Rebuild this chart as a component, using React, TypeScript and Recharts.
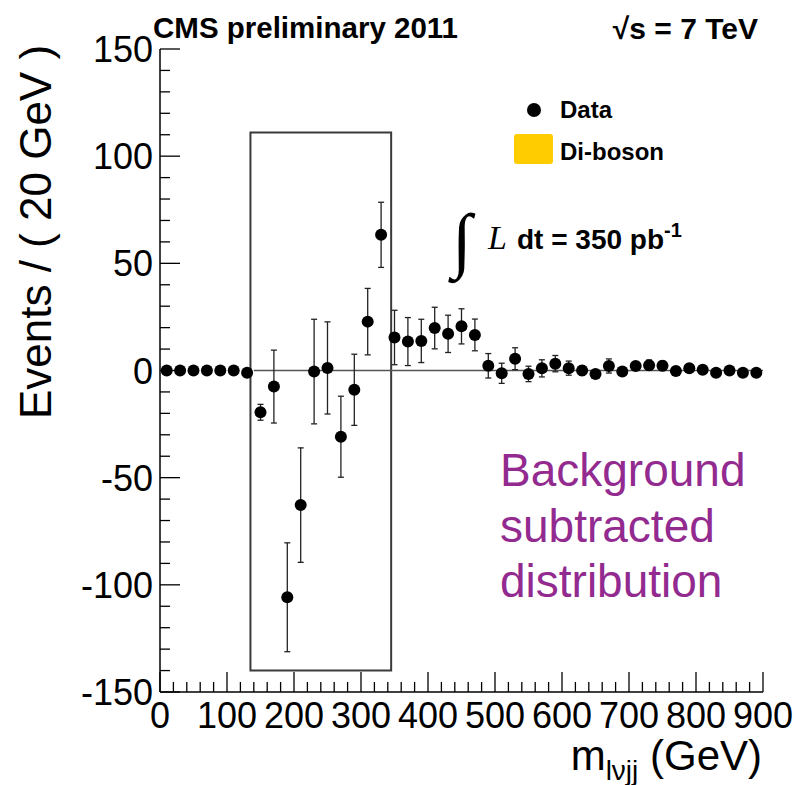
import React from 'react'
import { ComposedChart, Scatter, ErrorBar, XAxis, YAxis, ReferenceArea, ReferenceLine } from 'recharts'

// m_lvjj bin centres (20 GeV bins)
const binCenters = [
  10, 30, 50, 70, 90, 110, 130, 150, 170, 190, 210, 230, 250, 270, 290,
  310, 330, 350, 370, 390, 410, 430, 450, 470, 490, 510, 530, 550, 570, 590,
  610, 630, 650, 670, 690, 710, 730, 750, 770, 790, 810, 830, 850, 870, 890,
]

// background subtracted events per bin
const eventValues = [
  0, 0, 0, 0, 0, 0, -1, -19.5, -7.5, -105.8, -62.8, -0.5, 1.2, -30.9, -9,
  22.8, 63.3, 15.4, 13.5, 13.8, 19.8, 17.1, 20.6, 16.6, 2.2, -1.3, 5.5, -1.6, 1.0, 3.2,
  1.1, 0, -1.6, 2.1, -0.5, 2.1, 2.5, 2.2, -0.2, 1.1, 0.3, -1.1, 0, -1, -1,
]

const eventErrors = [
  0, 0, 0, 0, 0, 0, 0, 3.7, 17, 25.4, 26.7, 24.4, 21.5, 18.9, 16.6,
  15.5, 15.2, 12.7, 11.2, 10.1, 9.7, 8.7, 8.2, 7.4, 5.7, 4.7, 5.1, 3.6, 4, 3.8,
  3.3, 2.2, 2, 3.3, 1.5, 2, 2.4, 2.2, 1.5, 1.5, 1.2, 1, 1, 1, 1,
]

const xMajorTicks = [0, 100, 200, 300, 400, 500, 600, 700, 800, 900]
const yMajorTicks = [-150, -100, -50, 0, 50, 100, 150]

// signal window drawn as a box
const windowX = [135, 345]
const windowY = [-140, 111]

const FONT = '"Liberation Sans", Arial, Helvetica, sans-serif'
const SERIF = '"Liberation Serif", "DejaVu Serif", serif'

const subdivide = (majors: number[], n: number) => {
  const out: number[] = []
  for (let i = 0; i < majors.length - 1; i++) {
    const step = (majors[i + 1] - majors[i]) / n
    for (let k = 0; k < n; k++) out.push(majors[i] + k * step)
  }
  out.push(majors[majors.length - 1])
  return out
}

const xTicks = subdivide(xMajorTicks, 5)
const yTicks = subdivide(yMajorTicks, 5)

const data = binCenters.map((m, i) => ({ m, y: eventValues[i], err: eventErrors[i] }))

const isMajor = (v: number, list: number[]) => list.indexOf(v) >= 0

const BottomTick = (props: any) => {
  const { x, y, payload } = props
  const major = isMajor(payload.value, xMajorTicks)
  return (
    <g>
      <line x1={x} x2={x} y1={y} y2={y - (major ? 20 : 10)} stroke="#000" strokeWidth={1.3} />
      {major && (
        <text x={x} y={y + 36} textAnchor="middle" fontSize={36} fontFamily={FONT} fill="#000">
          {payload.value}
        </text>
      )}
    </g>
  )
}

const TopTick = (props: any) => {
  const { x, y, payload } = props
  const major = isMajor(payload.value, xMajorTicks)
  return <line x1={x} x2={x} y1={y} y2={y + (major ? 20 : 10)} stroke="#000" strokeWidth={1.3} />
}

const LeftTick = (props: any) => {
  const { x, y, payload } = props
  const major = isMajor(payload.value, yMajorTicks)
  return (
    <g>
      <line x1={x} x2={x + (major ? 20 : 10)} y1={y} y2={y} stroke="#000" strokeWidth={1.3} />
      {major && (
        <text x={x - 7} y={y + 13} textAnchor="end" fontSize={36} fontFamily={FONT} fill="#000">
          {payload.value}
        </text>
      )}
    </g>
  )
}

const RightTick = (props: any) => {
  const { x, y, payload } = props
  const major = isMajor(payload.value, yMajorTicks)
  return <line x1={x} x2={x - (major ? 20 : 10)} y1={y} y2={y} stroke="#000" strokeWidth={1.3} />
}

const DataDot = (props: any) => <circle cx={props.cx} cy={props.cy} r={6} fill="#000" />

const App = () => {
  return (
    <div style={{ position: 'absolute', left: 0, top: 0, width: 796, height: 785, background: '#fff' }}>
      <ComposedChart width={796} height={785} data={data} margin={{ top: 49, right: 33, bottom: 0, left: 0 }}>
        <XAxis
          xAxisId="b"
          dataKey="m"
          type="number"
          domain={[0, 900]}
          allowDataOverflow
          ticks={xTicks}
          interval={0}
          height={93}
          tickSize={0}
          tickMargin={0}
          tickLine={false}
          axisLine={{ stroke: '#000', strokeWidth: 1.5 }}
          tick={<BottomTick />}
        />
        <XAxis
          xAxisId="t"
          orientation="top"
          type="number"
          domain={[0, 900]}
          allowDataOverflow
          ticks={xTicks}
          interval={0}
          height={0}
          tickSize={0}
          tickMargin={0}
          tickLine={false}
          axisLine={{ stroke: '#000', strokeWidth: 1.5 }}
          tick={<TopTick />}
        />
        <YAxis
          yAxisId="l"
          type="number"
          domain={[-150, 150]}
          allowDataOverflow
          ticks={yTicks}
          interval={0}
          width={160}
          tickSize={0}
          tickMargin={0}
          tickLine={false}
          axisLine={{ stroke: '#000', strokeWidth: 1.5 }}
          tick={<LeftTick />}
        />
        <YAxis
          yAxisId="r"
          orientation="right"
          type="number"
          domain={[-150, 150]}
          allowDataOverflow
          ticks={yTicks}
          interval={0}
          width={0}
          tickSize={0}
          tickMargin={0}
          tickLine={false}
          axisLine={{ stroke: '#000', strokeWidth: 1.5 }}
          tick={<RightTick />}
        />
        <ReferenceArea
          xAxisId="b"
          yAxisId="l"
          x1={windowX[0]}
          x2={windowX[1]}
          y1={windowY[0]}
          y2={windowY[1]}
          fill="none"
          fillOpacity={0}
          stroke="#3a3a3a"
          strokeWidth={2}
        />
        <ReferenceLine
          xAxisId="b"
          yAxisId="l"
          segment={[{ x: 140, y: 0 }, { x: 900, y: 0 }]}
          stroke="#555"
          strokeWidth={1.5}
        />
        <Scatter xAxisId="b" yAxisId="l" name="Data" dataKey="y" shape={<DataDot />} isAnimationActive={false}>
          <ErrorBar dataKey="err" direction="y" width={3} stroke="#222" strokeWidth={1.3} isAnimationActive={false} />
        </Scatter>
      </ComposedChart>
      <svg
        width={796}
        height={785}
        style={{ position: 'absolute', left: 0, top: 0, pointerEvents: 'none' }}
        fontFamily={FONT}
      >
        <text x={153} y={38} fontSize={29.5} fontWeight="bold">CMS preliminary 2011</text>
        <text x={758} y={39} fontSize={30} fontWeight="bold" textAnchor="end">√s = 7 TeV</text>

        <circle cx={534} cy={110} r={7} fill="#000" />
        <text x={560} y={118} fontSize={24} fontWeight="bold">Data</text>
        <rect x={514} y={134} width={39} height={30} rx={3} fill="#ffcc00" />
        <text x={560} y={160} fontSize={24} fontWeight="bold">Di-boson</text>

        <text x={452} y={264} fontSize={72} fontFamily={SERIF}>∫</text>
        <text x={488} y={249} fontSize={34} fontStyle="italic" fontFamily={SERIF}>L</text>
        <text x={517} y={249} fontSize={28} fontWeight="bold">
          dt = 350 pb<tspan dy={-12} fontSize={20}>-1</tspan>
        </text>

        <text fill="#922a8f" fontSize={46}>
          <tspan x={500} y={486}>Background</tspan>
          <tspan x={500} y={542}>subtracted</tspan>
          <tspan x={500} y={597}>distribution</tspan>
        </text>
        <text x={51} y={232} fontSize={44} textAnchor="middle" transform="rotate(-90 51 232)">
          Events / ( 20 GeV )
        </text>
        <text x={762} y={770} fontSize={42} textAnchor="end">
          m<tspan fontSize={28} dy={10}>lνjj</tspan><tspan dy={-10}> (GeV)</tspan>
        </text>
      </svg>
    </div>
  )
}

export default App
